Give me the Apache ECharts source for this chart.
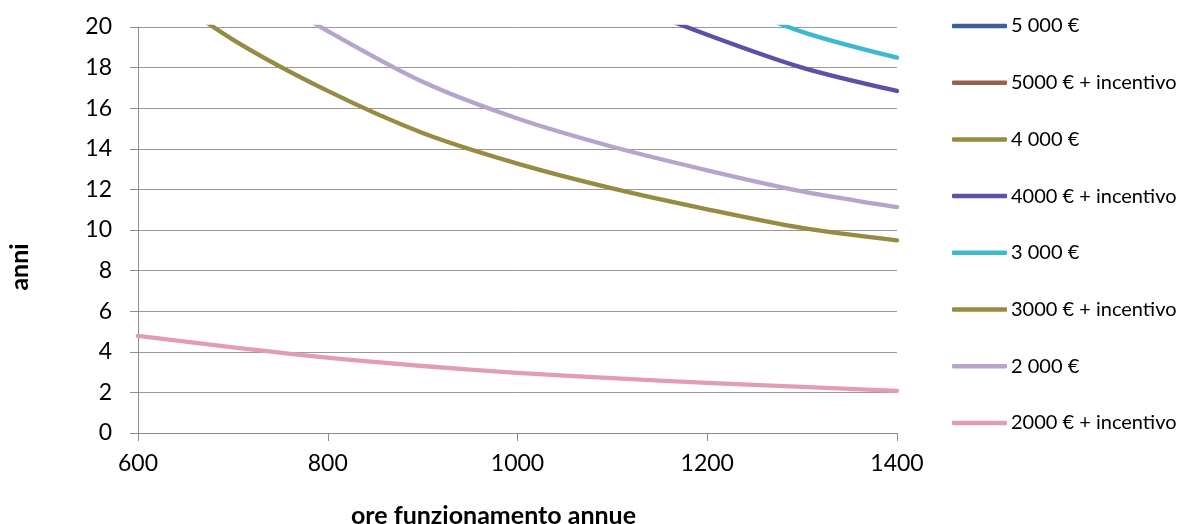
<!DOCTYPE html>
<html>
<head>
<meta charset="utf-8">
<script src="https://cdn.jsdelivr.net/npm/echarts@6/dist/echarts.min.js"></script>
<style>
html,body{margin:0;padding:0;background:#fff;}
#chart{width:1183px;height:524px;}
</style>
</head>
<body>
<div id="chart"></div>
<script>
// x values: ore funzionamento annue
const hours = [600, 700, 800, 900, 1000, 1100, 1200, 1300, 1400];
// y values: anni (values above 20 are clipped by the axis)
const s5000      = [77.7, 66.6, 58.3, 51.8, 46.6, 42.4, 38.9, 35.9, 33.3];
const s5000inc   = [56.5, 48.5, 42.4, 37.7, 33.9, 30.8, 28.3, 26.1, 24.3];
const s4000      = [60.4, 51.8, 45.3, 40.3, 36.3, 32.9, 30.2, 27.9, 25.9];
const s4000inc   = [39.0, 33.5, 29.3, 26.1, 23.6, 21.45, 19.62, 18.0, 16.85];
const s3000      = [43.0, 37.0, 32.4, 28.8, 25.9, 23.6, 21.6, 19.76, 18.49];
const s3000inc   = [22.6, 19.38, 16.85, 14.78, 13.27, 12.05, 11.02, 10.1, 9.49];
const s2000      = [26.2, 22.6, 19.8, 17.3, 15.49, 14.1, 12.94, 11.9, 11.13];
const s2000inc   = [4.78, 4.22, 3.71, 3.3, 2.96, 2.7, 2.47, 2.27, 2.08];
const seriesNames = ['5 000 €', '5000 € + incentivo', '4 000 €', '4000 € + incentivo',
                     '3 000 €', '3000 € + incentivo', '2 000 €', '2000 € + incentivo'];
const seriesData = [s5000, s5000inc, s4000, s4000inc, s3000, s3000inc, s2000, s2000inc];
const xTicks = [600, 800, 1000, 1200, 1400];
const yTicks = [0, 2, 4, 6, 8, 10, 12, 14, 16, 18, 20];

const colors = ['#3b6096', '#95614a', '#958b42', '#5e4fa8', '#3db8cf', '#958b42', '#b6a4cd', '#e09db5'];
const FONT = 'Lato, "Open Sans", sans-serif';

const chart = echarts.init(document.getElementById('chart'), null, {renderer: 'canvas'});
chart.setOption({
  animation: false,
  backgroundColor: '#ffffff',
  color: colors,
  grid: {left: 138, right: 286, top: 27, bottom: 91, containLabel: false, outerBoundsMode: 'none'},
  legend: {
    orient: 'vertical',
    left: 952,
    top: 16,
    padding: 0,
    icon: 'roundRect',
    itemWidth: 55,
    itemHeight: 4.5,
    itemGap: 36.7,
    data: seriesNames,
    textStyle: {fontFamily: FONT, fontSize: 20, color: '#000', lineHeight: 20, padding: [0,0,0,-1]}
  },
  xAxis: {
    type: 'value',
    min: xTicks[0],
    max: xTicks[xTicks.length - 1],
    interval: 200,
    name: 'ore funzionamento annue',
    nameLocation: 'middle',
    nameGap: 70,
    nameTextStyle: {fontFamily: FONT, fontSize: 25, fontWeight: 'bold', color: '#000', padding: [0, 48, 0, 0]},
    axisLine: {lineStyle: {color: '#8c8c8c', width: 1}},
    axisTick: {show: true, length: 8, lineStyle: {color: '#8c8c8c'}},
    axisLabel: {fontFamily: FONT, fontSize: 23, color: '#000', margin: 19, formatter: v => String(v)},
    splitLine: {show: false}
  },
  yAxis: {
    type: 'value',
    min: yTicks[0],
    max: yTicks[yTicks.length - 1],
    interval: 2,
    name: 'anni',
    nameLocation: 'middle',
    nameGap: 106,
    nameRotate: 90,
    nameTextStyle: {fontFamily: FONT, fontSize: 25, fontWeight: 'bold', color: '#000', padding: [0, 74, 0, 0]},
    axisLine: {show: true, lineStyle: {color: '#8c8c8c', width: 1}},
    axisTick: {show: true, length: 8, lineStyle: {color: '#8c8c8c'}},
    axisLabel: {fontFamily: FONT, fontSize: 23, color: '#000', margin: 26, formatter: v => String(v)},
    splitLine: {show: true, lineStyle: {color: '#999999', width: 1}}
  },
  series: seriesNames.map((n, i) => ({
    name: n,
    type: 'line',
    smooth: 0.3,
    symbol: 'none',
    clip: true,
    lineStyle: {width: 4.3, color: colors[i], cap: 'round', join: 'round'},
    itemStyle: {color: colors[i]},
    data: hours.map((h, j) => [h, seriesData[i][j]])
  }))
});
</script>
</body>
</html>
